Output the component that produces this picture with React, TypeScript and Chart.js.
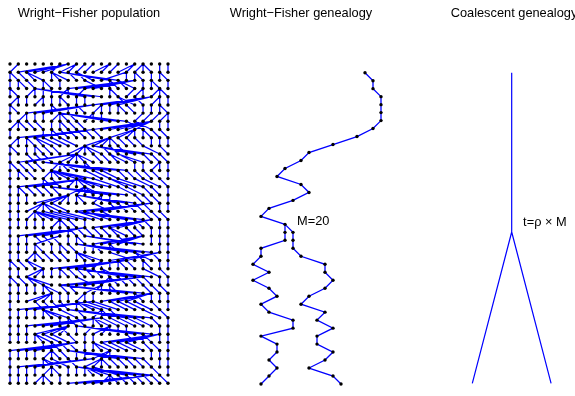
import React, { useEffect, useRef } from "react";
import { Chart, registerables } from "chart.js";
Chart.register(...registerables);

// ---------- data ----------
const N_COLS = 20;
const N_ROWS = 40;

// PARENTS[r-1][j] = column of the parent (in row r-1) of individual j in row r
const PARENTS: number[][] = [
  [1, 7, 7, 7, 7, 6, 8, 8, 9, 10, 12, 12, 13, 15, 15, 16, 16, 16, 18, 19],
  [0, 0, 1, 2, 2, 5, 5, 5, 7, 8, 8, 14, 6, 6, 14, 15, 15, 17, 18, 18],
  [0, 1, 1, 2, 4, 4, 6, 15, 15, 15, 15, 9, 12, 12, 13, 13, 16, 17, 17, 19],
  [0, 0, 3, 3, 4, 5, 7, 7, 9, 3, 3, 3, 12, 12, 15, 16, 16, 18, 18, 18],
  [1, 1, 2, 4, 4, 5, 6, 6, 8, 9, 17, 17, 17, 17, 13, 13, 15, 18, 18, 19],
  [0, 0, 10, 10, 10, 5, 5, 7, 8, 8, 11, 11, 12, 13, 13, 14, 16, 17, 18, 18],
  [0, 2, 2, 3, 4, 6, 6, 6, 7, 10, 10, 11, 6, 6, 6, 16, 17, 18, 19, 19],
  [1, 1, 1, 2, 3, 5, 6, 6, 7, 8, 17, 17, 17, 17, 17, 17, 14, 15, 18, 19],
  [0, 10, 10, 10, 4, 5, 5, 6, 7, 8, 9, 10, 15, 15, 15, 15, 16, 16, 17, 18],
  [1, 1, 2, 2, 3, 3, 4, 5, 6, 12, 12, 12, 12, 12, 13, 14, 15, 17, 18, 19],
  [0, 0, 2, 3, 3, 4, 5, 9, 9, 9, 9, 9, 11, 12, 13, 10, 10, 10, 16, 18],
  [0, 8, 8, 2, 3, 4, 8, 8, 8, 8, 8, 10, 11, 12, 12, 13, 13, 16, 17, 18],
  [0, 0, 1, 2, 3, 6, 6, 6, 6, 9, 9, 4, 4, 4, 4, 15, 16, 18, 18, 19],
  [0, 1, 1, 2, 5, 5, 5, 5, 5, 5, 5, 9, 10, 11, 13, 14, 15, 16, 17, 19],
  [0, 9, 9, 9, 4, 4, 5, 8, 8, 8, 8, 8, 8, 10, 12, 12, 13, 15, 16, 18],
  [0, 1, 1, 2, 3, 4, 5, 9, 9, 9, 9, 9, 5, 5, 5, 13, 14, 16, 17, 19],
  [0, 1, 2, 7, 7, 7, 7, 7, 8, 8, 11, 11, 12, 8, 8, 8, 15, 16, 17, 19],
  [0, 1, 4, 4, 4, 4, 4, 5, 17, 17, 17, 17, 10, 12, 13, 14, 15, 16, 18, 19],
  [0, 1, 3, 3, 3, 3, 3, 3, 4, 5, 6, 8, 9, 11, 8, 8, 8, 16, 17, 18],
  [0, 1, 2, 3, 4, 6, 6, 6, 7, 9, 17, 17, 17, 17, 14, 15, 15, 16, 18, 19],
  [0, 9, 9, 9, 9, 5, 6, 7, 7, 8, 9, 10, 11, 12, 12, 14, 15, 17, 18, 19],
  [0, 1, 2, 6, 3, 4, 5, 7, 8, 8, 16, 16, 16, 16, 13, 9, 9, 17, 18, 19],
  [0, 1, 2, 3, 3, 5, 6, 6, 7, 9, 10, 10, 12, 12, 8, 8, 8, 8, 18, 19],
  [0, 1, 3, 3, 3, 4, 5, 6, 8, 8, 8, 8, 18, 18, 18, 12, 15, 15, 17, 19],
  [0, 0, 1, 2, 2, 14, 14, 14, 14, 9, 11, 11, 12, 13, 13, 14, 16, 16, 18, 19],
  [0, 1, 4, 4, 4, 5, 6, 6, 7, 8, 9, 10, 11, 11, 8, 8, 8, 8, 16, 18],
  [0, 0, 1, 2, 2, 2, 16, 16, 16, 16, 8, 12, 12, 12, 13, 14, 15, 16, 18, 19],
  [0, 1, 2, 3, 4, 4, 4, 6, 7, 11, 11, 11, 12, 12, 6, 6, 6, 16, 17, 18],
  [0, 1, 5, 5, 5, 5, 6, 7, 9, 9, 10, 17, 17, 17, 17, 15, 15, 17, 18, 19],
  [0, 10, 10, 10, 3, 4, 5, 6, 8, 8, 8, 8, 9, 10, 12, 13, 14, 15, 17, 19],
  [0, 1, 2, 3, 4, 4, 4, 4, 6, 8, 11, 11, 11, 12, 7, 7, 7, 7, 16, 18],
  [0, 1, 11, 11, 11, 11, 6, 7, 7, 8, 10, 10, 10, 11, 12, 13, 14, 15, 17, 19],
  [0, 1, 2, 7, 7, 7, 7, 6, 8, 10, 12, 12, 12, 13, 14, 8, 8, 8, 18, 19],
  [0, 1, 2, 3, 3, 3, 4, 5, 7, 9, 10, 18, 18, 18, 18, 14, 16, 16, 18, 19],
  [8, 8, 8, 8, 4, 5, 5, 6, 7, 9, 10, 10, 10, 11, 12, 13, 14, 16, 17, 19],
  [0, 1, 2, 3, 5, 5, 5, 6, 8, 9, 12, 12, 12, 7, 7, 7, 7, 17, 18, 19],
  [0, 10, 10, 10, 4, 4, 4, 5, 7, 11, 11, 11, 11, 12, 13, 14, 15, 16, 18, 19],
  [0, 1, 2, 3, 5, 5, 5, 7, 8, 9, 9, 9, 9, 10, 8, 8, 8, 8, 17, 19],
  [0, 1, 2, 4, 4, 4, 6, 17, 17, 17, 17, 12, 12, 12, 13, 14, 15, 16, 17, 18],
];

// genealogy of two sampled individuals (column per generation)
const TRUNK_COLS = [16, 17, 17, 18, 18, 18, 18, 17, 15, 12, 9, 8, 6, 5, 8, 9, 7, 4, 3, 6]; // rows 0..19
const BRANCH_A_COLS = [6, 6, 3, 3, 2, 4, 2, 4, 5, 3, 4, 7, 7, 3, 5, 5, 4, 5, 4, 3]; // rows 20..39
const BRANCH_B_COLS = [7, 7, 7, 8, 11, 11, 12, 11, 9, 8, 11, 10, 12, 10, 10, 12, 11, 9, 12, 13]; // rows 20..39
const M_LABEL = "M=20";

// coalescent tree
const COAL_LEAF_X = [-1, 1];
const COAL_ROOT_T = 39;
const COAL_MERGE_T = 19;
const COAL_LABEL = "t=\u03c1 \u00d7 M";

const TITLES = ["Wright\u2212Fisher population", "Wright\u2212Fisher genealogy", "Coalescent genealogy"];

// ---------- style ----------
const FONT = '"Liberation Sans", Arial, Helvetica, sans-serif';
const FS = 12.8;
const BLUE = "rgb(0,0,255)";

function labelPlugin(text: string, xv: number, yv: number) {
  return {
    id: "lbl",
    afterDatasetsDraw(chart: any) {
      const { ctx, scales } = chart;
      ctx.save();
      ctx.font = `${FS}px ${FONT}`;
      ctx.fillStyle = "#000";
      ctx.textBaseline = "middle";
      ctx.textAlign = "left";
      ctx.fillText(text, scales.x.getPixelForValue(xv), scales.y.getPixelForValue(yv));
      ctx.restore();
    },
  };
}

function baseOptions(title: string, pad: any, titleBottom: number, xs: any, ys: any) {
  return {
    responsive: false,
    animation: false,
    devicePixelRatio: 1,
    events: [],
    layout: { padding: pad },
    plugins: {
      legend: { display: false },
      tooltip: { enabled: false },
      title: {
        display: true,
        text: title,
        color: "#000",
        font: { family: FONT, size: FS, weight: "normal" },
        padding: { top: 5.5, bottom: titleBottom },
      },
    },
    scales: {
      x: { type: "linear", display: false, ...xs },
      y: { type: "linear", display: false, ...ys },
    },
  };
}

const NANPT = { x: NaN, y: NaN };

function lineDs(data: any[], width: number) {
  return {
    type: "scatter",
    data,
    showLine: true,
    spanGaps: false,
    borderColor: BLUE,
    borderWidth: width,
    pointRadius: 0,
    pointHoverRadius: 0,
    tension: 0,
    clip: false,
    order: 2,
  };
}

function dotDs(data: any[]) {
  return {
    type: "scatter",
    data,
    showLine: false,
    pointRadius: 1.7,
    pointHoverRadius: 1.7,
    pointBackgroundColor: "#000",
    pointBorderWidth: 0,
    borderWidth: 0,
    clip: false,
    order: 1,
  };
}

export default function App() {
  const c1 = useRef<HTMLCanvasElement>(null);
  const c2 = useRef<HTMLCanvasElement>(null);
  const c3 = useRef<HTMLCanvasElement>(null);

  useEffect(() => {
    const charts: Chart[] = [];

    // ---- panel 1: population ----
    const links: any[] = [];
    for (let r = 1; r < N_ROWS; r++) {
      for (let j = 0; j < N_COLS; j++) {
        links.push({ x: j, y: r }, { x: PARENTS[r - 1][j], y: r - 1 }, NANPT);
      }
    }
    const nodes: any[] = [];
    for (let r = 0; r < N_ROWS; r++) for (let j = 0; j < N_COLS; j++) nodes.push({ x: j, y: r });
    charts.push(
      new Chart(c1.current!, {
        type: "scatter",
        data: { datasets: [lineDs(links, 1.25), dotDs(nodes)] as any },
        options: baseOptions(
          TITLES[0],
          { left: 10, right: 10, top: 0, bottom: 12.7 },
          64 - 5.5 - FS * 1.2,
          { min: 0, max: N_COLS - 1 },
          { min: 0, max: N_ROWS - 1, reverse: true }
        ) as any,
      })
    );

    // ---- panel 2: genealogy ----
    const trunk = TRUNK_COLS.map((c, r) => ({ x: c, y: r }));
    const mergeRow = TRUNK_COLS.length - 1;
    const merge = trunk[mergeRow];
    const brA = [merge, ...BRANCH_A_COLS.map((c, i) => ({ x: c, y: mergeRow + 1 + i }))];
    const brB = [merge, ...BRANCH_B_COLS.map((c, i) => ({ x: c, y: mergeRow + 1 + i }))];
    const gLines = [...trunk, NANPT, ...brA, NANPT, ...brB];
    const gDots = [...trunk, ...brA.slice(1), ...brB.slice(1)];
    charts.push(
      new Chart(c2.current!, {
        type: "scatter",
        data: { datasets: [lineDs(gLines, 1.3), dotDs(gDots)] as any },
        options: baseOptions(
          TITLES[1],
          { left: 10, right: 10, top: 0, bottom: 12 },
          72.7 - 5.5 - FS * 1.2,
          { min: -2, max: 18 },
          { min: 0, max: N_ROWS - 1, reverse: true }
        ) as any,
        plugins: [labelPlugin(M_LABEL, 7.5, 18.6)],
      })
    );

    // ---- panel 3: coalescent ----
    const tree = [
      { x: 0, y: COAL_ROOT_T },
      { x: 0, y: COAL_MERGE_T },
      NANPT,
      { x: COAL_LEAF_X[0], y: 0 },
      { x: 0, y: COAL_MERGE_T },
      { x: COAL_LEAF_X[1], y: 0 },
    ];
    charts.push(
      new Chart(c3.current!, {
        type: "scatter",
        data: { datasets: [lineDs(tree, 1.2)] as any },
        options: baseOptions(
          TITLES[2],
          { left: 10, right: 10, top: 0, bottom: 12.7 },
          72.7 - 5.5 - FS * 1.2,
          { min: -1.972, max: 2.089 },
          { min: 0, max: COAL_ROOT_T }
        ) as any,
        plugins: [labelPlugin(COAL_LABEL, 0.29, 20.2)],
      })
    );

    return () => charts.forEach((c) => c.destroy());
  }, []);

  return (
    <div
      style={{
        position: "fixed",
        left: 0,
        top: 0,
        width: 575,
        height: 396,
        overflow: "hidden",
        background: "#fff",
      }}
    >
      <canvas ref={c1} width={178} height={396} style={{ position: "absolute", left: 0, top: 0 }} />
      <canvas ref={c2} width={180} height={396} style={{ position: "absolute", left: 211, top: 0 }} />
      <canvas ref={c3} width={180} height={396} style={{ position: "absolute", left: 424, top: 0 }} />
    </div>
  );
}
